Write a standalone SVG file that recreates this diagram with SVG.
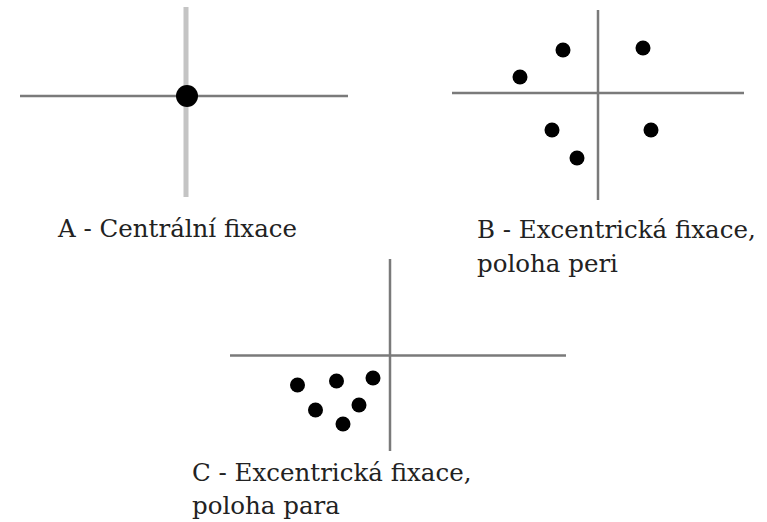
<svg xmlns="http://www.w3.org/2000/svg" width="767" height="522" viewBox="0 0 767 522">
<style>
text{font-family:'DejaVu Serif',serif;font-size:24.5px;fill:#222}
.h{stroke:#7a7a7a;stroke-width:2.5}
.v{stroke:#7a7a7a;stroke-width:2.5}
.dot{fill:#000}
</style>
<rect width="767" height="522" fill="#fff"/>
<g id="panelA">
<line x1="186" y1="7" x2="186" y2="197" stroke="#c4c4c4" stroke-width="5"/>
<line class="h" x1="20" y1="96" x2="348" y2="96" stroke="#858585"/>
<circle class="dot" cx="187" cy="96" r="11"/>
<text x="58" y="237">A - Centrální fixace</text>
</g>
<g id="panelB">
<line class="v" x1="598" y1="10" x2="598" y2="200"/>
<line class="h" x1="452" y1="93" x2="744" y2="93"/>
<circle class="dot" cx="563" cy="50" r="7.5"/>
<circle class="dot" cx="643" cy="48" r="7.5"/>
<circle class="dot" cx="520" cy="77" r="7.5"/>
<circle class="dot" cx="552" cy="130" r="7.5"/>
<circle class="dot" cx="651" cy="130" r="7.5"/>
<circle class="dot" cx="577" cy="158" r="7.5"/>
<text x="477" y="238">B - Excentrická fixace,</text>
<text x="477" y="272">poloha peri</text>
</g>
<g id="panelC">
<line class="v" x1="390" y1="259" x2="390" y2="451" stroke="#8f8f8f"/>
<line class="h" x1="230" y1="355.5" x2="566" y2="355.5" stroke="#8a8a8a"/>
<circle class="dot" cx="297.5" cy="385" r="7.5"/>
<circle class="dot" cx="336.5" cy="381" r="7.5"/>
<circle class="dot" cx="373" cy="378" r="7.5"/>
<circle class="dot" cx="315.5" cy="410" r="7.5"/>
<circle class="dot" cx="359" cy="405" r="7.5"/>
<circle class="dot" cx="343" cy="424" r="7.5"/>
<text x="192" y="481">C - Excentrická fixace,</text>
<text x="192" y="514">poloha para</text>
</g>
</svg>
